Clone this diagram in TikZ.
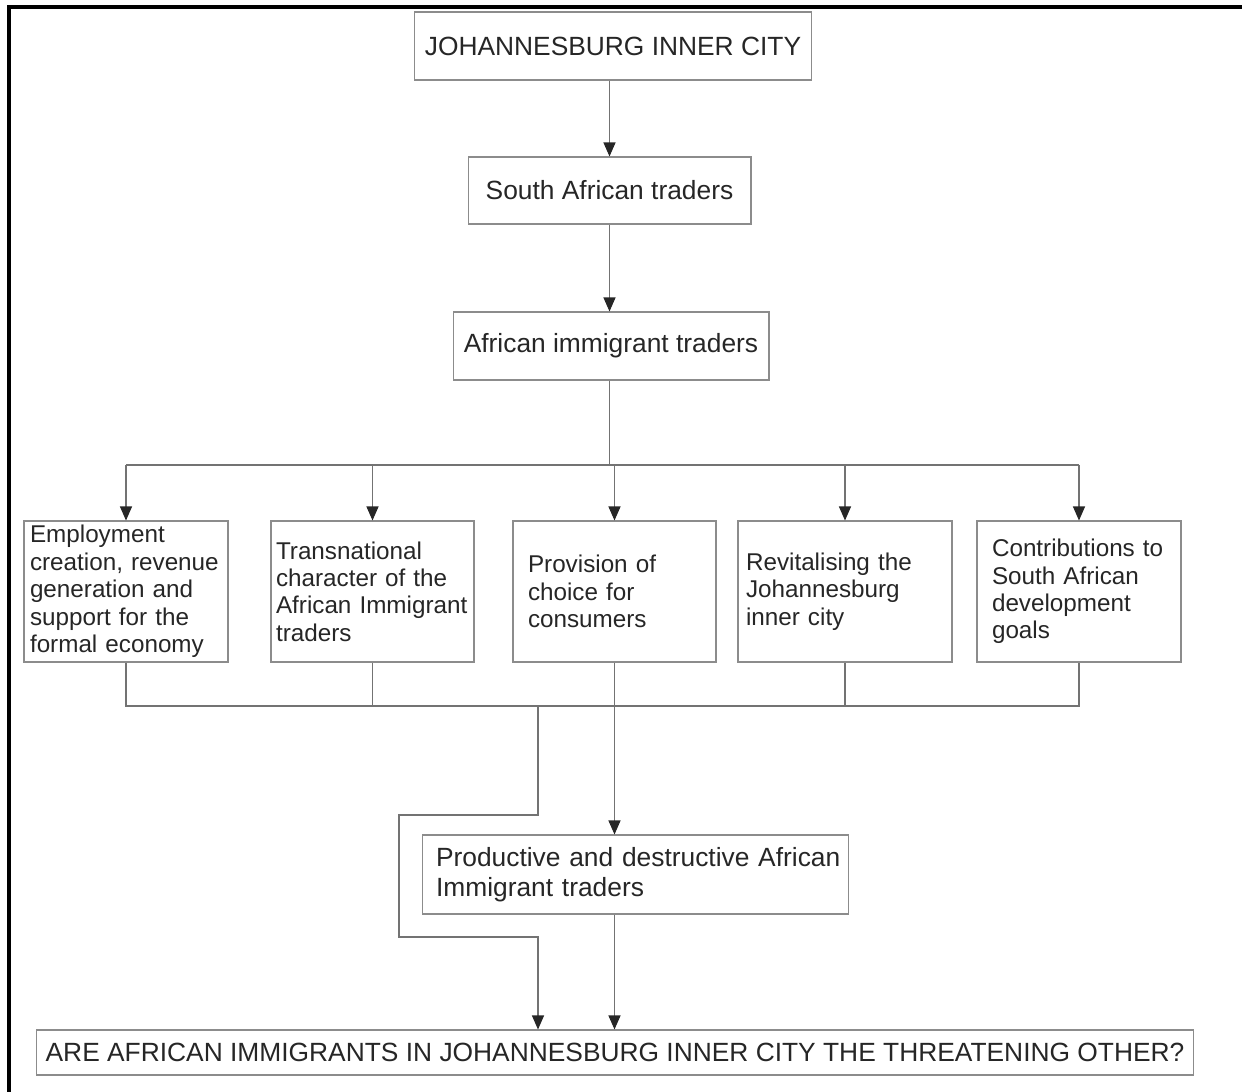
\documentclass[tikz,border=0pt]{standalone}
\usepackage{fontspec}
\setmainfont{Liberation Sans}
\usetikzlibrary{arrows.meta}
\tikzset{
  box/.style={draw=black!45, line width=0.6pt, text=black!85, inner sep=0pt},
  head/.style={box, font=\fontsize{15}{17}\selectfont},
  factor/.style={box, font=\fontsize{13.8}{15.6}\selectfont, align=left, minimum height=2.82cm},
  link/.style={draw=black!55, line width=0.6pt}
}
\begin{document}
\begin{tikzpicture}[x=0.02cm,y=-0.02cm,>={Triangle[length=0.28cm,width=0.24cm,color=black!85]}]
\useasboundingbox (0,0) rectangle (1242,1092);
\draw[line width=2.2pt] (9,1092)--(9,7)--(1242,7);

\node[head, minimum width=7.96cm, minimum height=1.36cm] (city) at (613,46) {JOHANNESBURG INNER CITY};
\node[head, minimum width=5.66cm, minimum height=1.34cm] (sa) at (609.5,190.5) {South African traders};
\node[head, minimum width=6.32cm, minimum height=1.36cm] (imm) at (611,346) {African immigrant traders};

\node[factor, inner xsep=0.12cm, text width=3.84cm] (emp) at (126,591.5)
  {Employment\\creation, revenue\\generation and\\support for the\\formal economy};
\node[factor, inner xsep=0.1cm, text width=3.86cm] (trans) at (372.5,591.5)
  {Transnational\\character of the\\\mbox{African Immigrant}\\traders};
\node[factor, inner xsep=0.3cm, text width=3.46cm] (choice) at (614.5,591.5)
  {Provision of\\choice for\\consumers};
\node[factor, inner xsep=0.16cm, text width=3.96cm] (revit) at (845,591.5)
  {Revitalising the\\Johannesburg\\inner city};
\node[factor, inner xsep=0.3cm, text width=3.48cm] (contrib) at (1079,591.5)
  {Contributions to\\South African\\development\\goals};

\node[head, align=left, inner xsep=0.28cm, text width=7.98cm, minimum height=1.58cm] (prod) at (635.5,874.5)
  {\mbox{Productive and destructive African}\\Immigrant traders};
\node[head, minimum width=23.16cm, minimum height=0.9cm] (q) at (615,1052.5)
  {ARE AFRICAN IMMIGRANTS IN JOHANNESBURG INNER CITY THE THREATENING OTHER?};

\coordinate (tbus) at (0,465);
\coordinate (lbus) at (0,706);
\coordinate (split) at (538,706);

\draw[link,->] (sa.north |- city.south)--(sa.north);
\draw[link,->] (sa.south)--(sa.south |- imm.north);
\draw[link] (sa.south |- imm.south)--(sa.south |- tbus);
\draw[link] (emp.north |- tbus)--(contrib.north |- tbus);
\foreach \n in {emp,trans,choice,revit,contrib}
{
    \draw[link,->] (\n.north |- tbus)--(\n.north);
}

\draw[link] (emp.south)--(emp.south |- lbus)--(contrib.south |- lbus)--(contrib.south);
\foreach \n in {trans,revit}
{
    \draw[link] (\n.south)--(\n.south |- lbus);
}
\draw[link,->] (choice.south)--(choice.south |- prod.north);
\draw[link,->] (split)--++(0,109)--++(-139,0)--++(0,122)--++(139,0)--(split |- q.north);
\draw[link,->] (choice.south |- prod.south)--(choice.south |- q.north);

\end{tikzpicture}
\end{document}
